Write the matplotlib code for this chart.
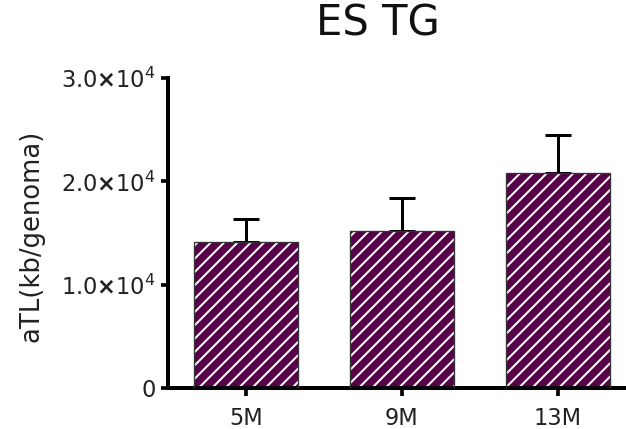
import numpy as np
import matplotlib
matplotlib.use("Agg")
import matplotlib.pyplot as plt

plt.rcParams['font.family'] = 'DejaVu Sans'
plt.rcParams['mathtext.fontset'] = 'dejavusans'
plt.rcParams['mathtext.default'] = 'regular'
plt.rcParams['hatch.linewidth'] = 1.2

# data
groups = ["5M", "9M", "13M"]
means = [14100, 15200, 20800]
sem = [2300, 3200, 3700]
y_ticks = [0, 10000, 20000, 30000]
y_tick_labels = ["0", r"1.0$\mathbf{\times}$10$^4$", r"2.0$\mathbf{\times}$10$^4$",
                 r"3.0$\mathbf{\times}$10$^4$"]

DPI = 120
W, H = 626, 429
fig = plt.figure(figsize=(W / DPI, H / DPI), dpi=DPI)
ax = fig.add_axes([168 / W, 41 / H, 468 / W, 310 / H])

x = np.arange(len(groups))
# fill + white stripes, then a thin dark outline on top
ax.bar(x, means, width=0.667, color='#57004a', edgecolor='white',
       linewidth=0, hatch='///', zorder=2)
ax.bar(x, means, width=0.667, fill=False, edgecolor='#333333',
       linewidth=0.8, zorder=3)
ax.errorbar(x, means, yerr=[np.zeros(len(sem)), sem], fmt='none',
            ecolor='black', elinewidth=1.8, capsize=8, capthick=1.8, zorder=1)

ax.set_xlim(-0.5, 2.5)
ax.set_ylim(0, 30000)
ax.set_xticks(x)
ax.set_xticklabels(groups, fontsize=13.5, color='#222222')
ax.set_yticks(y_ticks)
ax.set_yticklabels(y_tick_labels, fontsize=13.5, color='#222222')
ax.tick_params(axis='both', direction='out', length=4.5, width=2.2)
ax.tick_params(axis='x', pad=7)
ax.tick_params(axis='y', pad=3)

for s in ['top', 'right']:
    ax.spines[s].set_visible(False)
for s in ['left', 'bottom']:
    ax.spines[s].set_linewidth(2.4)
ax.spines['left'].set_bounds(0, 30000)

fig.text(32 / W, 1 - 236 / H, "aTL(kb/genoma)", fontsize=15.5, rotation=90,
         ha='center', va='center', color='#222222')

fig.text(378 / W, 1 - 24 / H, "ES TG", fontsize=25, ha='center', va='center',
         color='#111111')

fig.savefig("out.png", dpi=DPI)
